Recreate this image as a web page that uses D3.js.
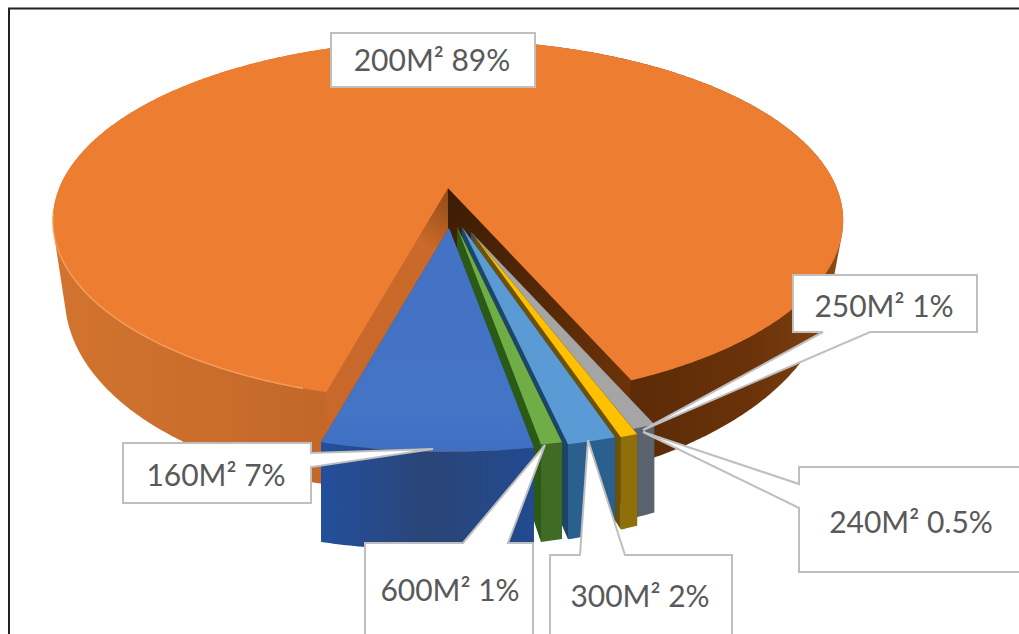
<!DOCTYPE html>
<html><head><meta charset="utf-8">
<script src="https://cdn.jsdelivr.net/npm/d3@7"></script>
<style>html,body{margin:0;padding:0;background:#fff;overflow:hidden}svg{display:block}text{font-family:Lato,"Open Sans",sans-serif}</style>
</head><body><svg id="c" width="1019" height="634"></svg>
<script>
// ---- data (clockwise from the lower-left of the pie)
const categories = ["160M²","600M²","300M²","240M²","250M²","200M²"];
const values     = [6.9, 0.7, 1.6, 0.6, 0.8, 89.4];
const percents   = ["7%","1%","2%","0.5%","1%","89%"];

// ---- styles
const topColors  = ["#4472c4","#70ad47","#5b9bd5","#ffc000","#a5a5a5","#ed7d31"];
const sideColors = ["#26468a","#3f6b24","#2b5f8e","#8f6f0a","#5a636e","url(#orangeSide)"];
const wallColors = ["#264478","#2a5a16","#1d4568","#6b5206","#4a4a4a","#6b3208"];

// ---- layout: screen offset of each exploded slice, and its perspective scale
const explodeX = [1, 9, 14, 27, 23, 0];
const explodeY = [40, 39, 39, 49, 44, 0];
const sliceK   = [1.05, 1.04, 1.05, 1.0, 1.0, 1.0];
const depthK   = [1.07, 1.08, 1.06, 1.05, 1.02, 1.0];
const bottomK  = [1, 1, 1, 1, 1, 0.97];

const cx = 448, cy = 188, rx = 388.7, ry = 174.6, persp = 0.18;
const xScale = d3.scaleLinear().domain([-1,1]).range([cx-rx,cx+rx]);
const yScale = d3.scaleLinear().domain([-1,1]).range([cy-ry,cy+ry]);
const rad = Math.PI/180;

const svg = d3.select("#c");
const defs = svg.append("defs");
function grad(id, stops, x1, x2, y1=0, y2=0){
  const g = defs.append("linearGradient").attr("id",id).attr("gradientUnits","userSpaceOnUse")
    .attr("x1",x1).attr("x2",x2).attr("y1",y1).attr("y2",y2);
  stops.forEach(s=>g.append("stop").attr("offset",s[0]).attr("stop-color",s[1]));
}
grad("orangeSide",[[0,"#d2742f"],[.33,"#c4682a"],[.5,"#bb6226"],[.72,"#5a2a08"],[.88,"#6a3209"],[.96,"#7a3e10"],[1,"#8f5018"]],53,843);
grad("orangeWallL",[[0,"#8f4a18"],[.25,"#c9692a"],[1,"#c8682a"]],448,328,188,393);
grad("orangeWallR",[[0,"#3a1c05"],[1,"#6b3208"]],448,627,188,383);
grad("blueTop",[[0,"#4472c4"],[.8,"#4474c6"],[.97,"#3f6fc2"],[1,"#3a68b5"]],0,0,225,460);
grad("blueSide",[[0,"#234f9c"],[.5,"#2a4577"],[1,"#224a90"]],320,535);

// projection of a point of the unit disc, exploded per slice
function project(theta, r, i){
  const u = r*Math.sin(theta), v = -r*Math.cos(theta), w = 1 - persp*v;
  const k = sliceK[i];
  return [ xScale(k*u/w) + explodeX[i], yScale(k*v/w) + explodeY[i] ];
}
function depth(theta, r, i){
  const u = r*Math.sin(theta), v = -r*Math.cos(theta);
  return (62 + 30*v - 8*u) * depthK[i];
}
const down = (theta,r,i)=>{
  const p=project(theta,r,i);
  return [cx + explodeX[i] + (p[0]-cx-explodeX[i])*bottomK[i], p[1]+depth(theta,r,i)];
};
const line = d3.line();
const arcAngles = (a,b)=>{const n=Math.max(2,Math.ceil(Math.abs(b-a)/(0.5*rad)));return d3.range(n+1).map(t=>a+(b-a)*t/n);};

const pie = d3.pie().sort(null).value(d=>d).startAngle(195*rad).endAngle(195*rad-2*Math.PI);
const arcs = pie(values);

// back-to-front: orange first, then gray ... blue
const order = [5,4,3,2,1,0];
order.forEach(i=>{
  const d = arcs[i], a = d.startAngle, b = d.endAngle;
  const g = svg.append("g").attr("class","slice").attr("data-cat",categories[i]);
  const angs = arcAngles(a,b);
  const topOuter = angs.map(t=>project(t,1,i));
  const botOuter = angs.map(t=>down(t,1,i)).reverse();
  const apex = project(0,0,i), apexD = down(0,0,i);
  const isOrange = i===5;
  // big slice: silhouette of its rim goes underneath everything
  if(isOrange){
    g.append("path").attr("d",line(d3.polygonHull(topOuter.concat(botOuter)))+"Z").attr("fill",sideColors[i]);
  }
  // walls
  g.append("path").attr("d",line([apex,project(a,1,i),down(a,1,i),apexD])+"Z")
    .attr("fill",isOrange?"url(#orangeWallR)":wallColors[i]);
  g.append("path").attr("d",line([apex,project(b,1,i),down(b,1,i),apexD])+"Z")
    .attr("fill",isOrange?"url(#orangeWallL)":wallColors[i]);
  // outer side
  if(!isOrange){
    g.append("path").attr("d",line(topOuter.concat(botOuter))+"Z")
      .attr("fill",i===0?"url(#blueSide)":sideColors[i]);
  }
  // top face
  g.append("path").attr("d",line([apex].concat(topOuter))+"Z")
    .attr("fill",i===0?"url(#blueTop)":topColors[i]);
});

// light rim along the front-left edge of the big slice
svg.append("path").attr("fill","none").attr("stroke","#f7a866").attr("stroke-width",1.6).attr("opacity",.75)
  .attr("d",line(arcAngles(262*rad,198*rad).map(t=>project(t,1,5))));

// ---- callouts
const calloutShapes = [
  {i:5, rect:[331,33,535,87], tx:432, ty:60},
  {i:4, rect:[793,275,977,332], tx:884, ty:306, side:"b", from:[823,870], tip:[643,430]},
  {i:3, rect:[799,467,1030,572], tx:911, ty:522, side:"l", from:[484,508], tip:[643,432]},
  {i:0, rect:[123,443,311,503], tx:216, ty:475, side:"r", from:[453,467], tip:[433,449]},
  {i:1, rect:[365,543,533,650], tx:450, ty:590, side:"t", from:[463,508], tip:[545,445]},
  {i:2, rect:[550,555,732,650], tx:640, ty:596, side:"t", from:[580,625], tip:[588,440]}
];
calloutShapes.forEach(c=>{
  const [x0,y0,x1,y1] = c.rect;
  let pts;
  if(c.side==="t") pts=[[x0,y0],[c.from[0],y0],c.tip,[c.from[1],y0],[x1,y0],[x1,y1],[x0,y1]];
  else if(c.side==="b") pts=[[x0,y0],[x1,y0],[x1,y1],[c.from[1],y1],c.tip,[c.from[0],y1],[x0,y1]];
  else if(c.side==="l") pts=[[x0,y0],[x1,y0],[x1,y1],[x0,y1],[x0,c.from[1]],c.tip,[x0,c.from[0]]];
  else if(c.side==="r") pts=[[x0,y0],[x1,y0],[x1,c.from[0]],c.tip,[x1,c.from[1]],[x1,y1],[x0,y1]];
  else pts=[[x0,y0],[x1,y0],[x1,y1],[x0,y1]];
  const g = svg.append("g").attr("class","callout");
  g.append("path").attr("d",line(pts)+"Z").attr("fill","#fff").attr("stroke","#bfbfbf").attr("stroke-width",2).attr("stroke-linejoin","miter");
  g.append("text").attr("x",c.tx).attr("y",c.ty).attr("dy","0.36em").attr("text-anchor","middle")
    .attr("font-size",30).attr("fill","#595959").text(categories[c.i]+" "+percents[c.i]);
});

// frame
svg.append("path").attr("d","M9,640V8.5H1019").attr("fill","none").attr("stroke","#222").attr("stroke-width",2);
</script></body></html>
